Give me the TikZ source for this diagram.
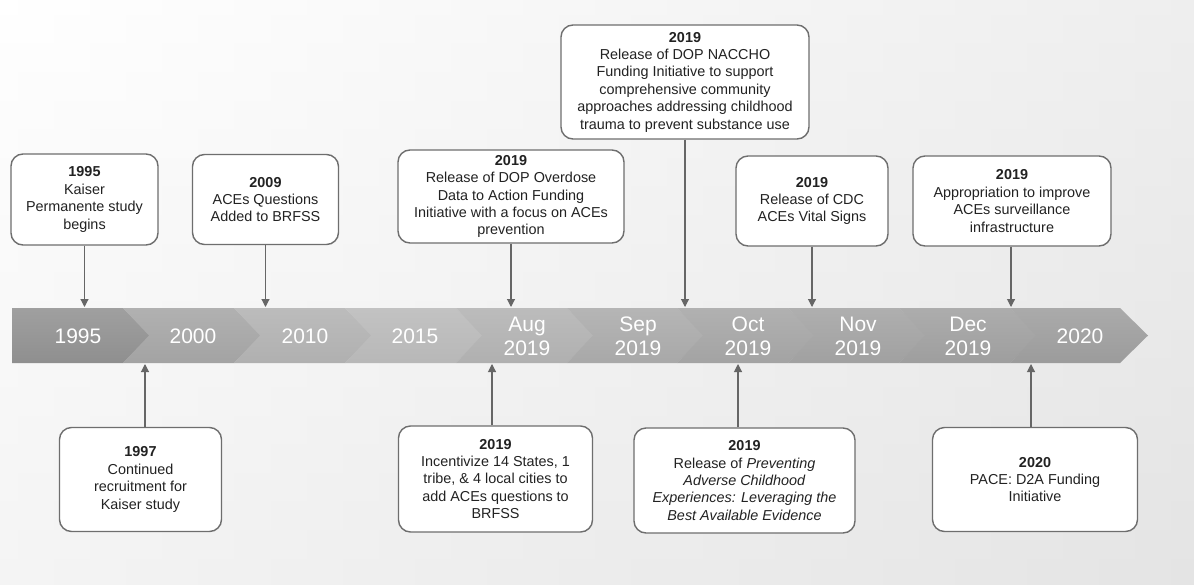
\documentclass[tikz,border=0pt]{standalone}
\usepackage{fontspec}
\setmainfont{Liberation Sans}
\usetikzlibrary{arrows.meta}
\definecolor{boxline}{HTML}{6E6E6E}
\definecolor{arrowc}{HTML}{666666}
\definecolor{txt}{HTML}{222222}
\tikzset{
  evbox/.style={draw=boxline, line width=1.4pt, fill=white, rounded corners=12pt,
    align=center, font=\fontsize{14.4}{17.4}\selectfont, text=txt, inner sep=0pt},
  conn/.style={draw=arrowc, line width=1.1pt, -{Triangle[length=8pt,width=8pt]}},
  seglabel/.style={text=white, font=\fontsize{21}{24}\selectfont, align=center, inner sep=0pt}
}
\begin{document}
\begin{tikzpicture}[x=1pt,y=-1pt]
\useasboundingbox (0,0) rectangle (1194,584);
% background
\shade[left color=white, right color=black!13] (0,0) rectangle (1194,584);
\shade[top color=white, bottom color=black!8, opacity=0.5] (0,0) rectangle (1194,584);

% timeline band segments
\foreach \l/\r/\g/\n in {12/123/0.56/0, 123/234/0.64/26, 234/345/0.69/26, 345/456/0.72/26,
    456/567/0.69/26, 567/677/0.66/26, 677/788/0.64/26, 788/899/0.63/26, 899/1010/0.62/26, 1010/1120/0.61/26}{
  \definecolor{segc}{gray}{\g}
  \shade[top color=segc!85!white, bottom color=segc]
    (\l,308) -- (\r,308) -- (\r+28,335.5) -- (\r,363) -- (\l,363) -- (\l+\n,335.5) -- cycle;
}

% band labels
\node[seglabel] (l1) at (78,336) {1995};
\node[seglabel] (l2) at (193,336) {2000};
\node[seglabel] (l3) at (305,336) {2010};
\node[seglabel] (l4) at (415,336) {2015};
\node[seglabel] (l5) at (527,336) {Aug\\2019};
\node[seglabel] (l6) at (638,336) {Sep\\2019};
\node[seglabel] (l7) at (748,336) {Oct\\2019};
\node[seglabel] (l8) at (858,336) {Nov\\2019};
\node[seglabel] (l9) at (968,336) {Dec\\2019};
\node[seglabel] (l10) at (1080,336) {2020};

% arrow end points on band
\coordinate (t1) at (84.5,307);
\coordinate (t2) at (265.5,307);
\coordinate (t3) at (511,307);
\coordinate (t4) at (685,307);
\coordinate (t5) at (812,307);
\coordinate (t6) at (1011,307);
\coordinate (u1) at (145,364);
\coordinate (u2) at (492,364);
\coordinate (u3) at (738,364);
\coordinate (u4) at (1031,364);

% top boxes
\node[evbox, minimum width=147pt, minimum height=91pt] (b1) at (84.5,199.5)
  {\textbf{1995}\\Kaiser\\Permanente study\\begins};
\node[evbox, minimum width=146pt, minimum height=90pt] (b2) at (265.5,199.5)
  {\textbf{2009}\\ACEs Questions\\Added to BRFSS};
\node[evbox, minimum width=226pt, minimum height=93pt] (b3) at (511,196.5)
  {\textbf{2019}\\Release of DOP Overdose\\Data to Action Funding\\Initiative with a focus on ACEs\\prevention};
\node[evbox, minimum width=248pt, minimum height=114pt] (b4) at (685,82)
  {\textbf{2019}\\Release of DOP NACCHO\\Funding Initiative to support\\comprehensive community\\approaches addressing childhood\\trauma to prevent substance use};
\node[evbox, minimum width=152pt, minimum height=90pt] (b5) at (812,201)
  {\textbf{2019}\\Release of CDC\\ACEs Vital Signs};
\node[evbox, minimum width=198pt, minimum height=90pt] (b6) at (1012,201)
  {\textbf{2019}\\Appropriation to improve\\ACEs surveillance\\infrastructure};

% bottom boxes
\node[evbox, minimum width=162pt, minimum height=104pt] (b7) at (140.5,479.5)
  {\textbf{1997}\\Continued\\recruitment for\\Kaiser study};
\node[evbox, minimum width=194pt, minimum height=106pt] (b8) at (495.5,479)
  {\textbf{2019}\\Incentivize 14 States, 1\\tribe, \& 4 local cities to\\add ACEs questions to\\BRFSS};
\node[evbox, minimum width=221pt, minimum height=105pt] (b9) at (744.5,480.5)
  {\textbf{2019}\\Release of \textit{Preventing}\\\textit{Adverse Childhood}\\\textit{Experiences: Leveraging the}\\\textit{Best Available Evidence}};
\node[evbox, minimum width=205pt, minimum height=104pt] (b10) at (1035,479.5)
  {\textbf{2020}\\PACE: D2A Funding\\Initiative};

% connectors
\draw[conn] (b1.south) -- (t1);
\draw[conn] (b2.south) -- (t2);
\draw[conn] (b3.south) -- (t3);
\draw[conn] (b4.south) -- (t4);
\draw[conn] (b5.south) -- (t5);
\draw[conn] (b6.south -| t6) -- (t6);
\draw[conn] (b7.north -| u1) -- (u1);
\draw[conn] (b8.north -| u2) -- (u2);
\draw[conn] (b9.north -| u3) -- (u3);
\draw[conn] (b10.north -| u4) -- (u4);
\end{tikzpicture}
\end{document}
